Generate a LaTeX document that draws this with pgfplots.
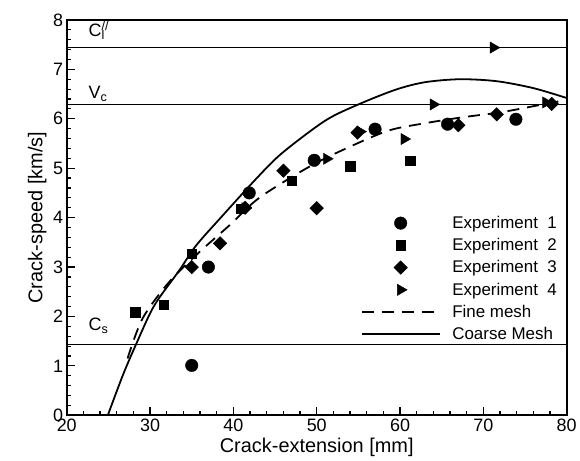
\documentclass[border=0pt]{standalone}
\usepackage{fontspec}
\setmainfont{Liberation Sans}
\usepackage{pgfplots}
\pgfplotsset{compat=1.18}
\pgfplotsset{
  every tick/.append style={black, line width=1.2pt},
  major tick length=8pt, minor tick length=4.5pt,
  every axis/.append style={axis line style={black, line width=1.8pt}},
  markleg/.style={legend image code/.code={\draw[##1] plot coordinates {(39pt,0pt)};}},
  lineleg/.style={legend image code/.code={\draw[##1] (0pt,0pt) -- (78pt,0pt);}},
}
\begin{document}
\begin{tikzpicture}
\begin{axis}[name=ax, scale only axis, width=502pt, height=397pt,
  xmin=20, xmax=80, ymin=0, ymax=8,
  xtick={20,30,...,80}, ytick={0,1,...,8},
  minor x tick num=4, minor y tick num=4,
  xtick pos=left, ytick pos=left, tick align=inside,
  axis on top,
  /pgf/number format/assume math mode=true,
  tick label style={font=\fontsize{18}{20}\selectfont},
  label style={font=\fontsize{20}{24}\selectfont},
  xlabel={Crack-extension [mm]}, ylabel={Crack-speed [km/s]},
  legend style={at={(0.588,0.509)}, anchor=north west, draw=none, fill=none,
    inner sep=0pt, font=\fontsize{17}{20}\selectfont, row sep=4.5pt,
    /tikz/every odd column/.append style={column sep=10pt}},
  legend cell align=left,
]
% reference wave speeds
\addplot[black, line width=1.3pt, forget plot] coordinates {(20,7.44) (80,7.44)};
\addplot[black, line width=1.3pt, forget plot] coordinates {(20,6.29) (80,6.29)};
\addplot[black, line width=1.3pt, forget plot] coordinates {(20,1.43) (80,1.43)};
\node[anchor=base west, font=\fontsize{18}{20}\selectfont] at (axis cs:22.2,7.66) {C\rlap{\textsubscript{l}}\textsuperscript{//}};
\node[anchor=base west, font=\fontsize{18}{20}\selectfont] at (axis cs:22.2,6.40) {V\textsubscript{c}};
\node[anchor=base west, font=\fontsize{18}{20}\selectfont] at (axis cs:22.2,1.71) {C\textsubscript{s}};

\addplot[only marks, mark=*, mark size=6.3pt, black, markleg] coordinates {
 (35.0,1.01) (37.0,3.00) (41.9,4.50) (49.7,5.16) (57.0,5.79) (65.7,5.89) (73.9,5.99)};
\addlegendentry{Experiment\ \ 1}
\addplot[only marks, mark=square*, mark size=4.7pt, black, markleg] coordinates {
 (28.2,2.09) (31.6,2.24) (35.0,3.27) (40.9,4.18) (47.0,4.75) (54.0,5.04) (61.2,5.15)};
\addlegendentry{Experiment\ \ 2}
\addplot[only marks, mark=square*, mark options={rotate=45}, mark size=4.8pt, black, markleg] coordinates {
 (35.0,3.00) (38.4,3.48) (41.4,4.20) (46.0,4.95) (50.0,4.19) (54.9,5.72) (67.0,5.87) (71.6,6.09) (78.2,6.30)};
\addlegendentry{Experiment\ \ 3}
\addplot[only marks, mark=triangle*, mark options={rotate=-90}, mark size=6.5pt, black, markleg] coordinates {
 (41.4,4.19) (51.2,5.19) (55.2,5.74) (60.5,5.59) (64.0,6.29) (71.2,7.44) (77.5,6.33)};
\addlegendentry{Experiment\ \ 4}

\addplot[black, line width=1.8pt, dash pattern=on 12pt off 8pt, smooth, lineleg] coordinates {
 (27.3,1.15) (29.1,1.96) (32.3,2.70) (35.9,3.30) (39.5,3.84) (43.1,4.40) (49.0,5.02)
 (53.4,5.39) (58.6,5.76) (63.0,5.91) (67.5,6.03) (72.4,6.14) (78.0,6.32) (80,6.38)};
\addlegendentry{Fine mesh}
\addplot[black, line width=1.8pt, smooth, lineleg] coordinates {
 (24.93,0) (26.73,0.81) (28.33,1.44) (30.5,2.22) (33.5,2.93) (35.5,3.43) (38.7,4.04)
 (42.7,4.78) (45.8,5.30) (51,5.96) (55,6.29) (59.5,6.59) (63,6.74) (67.2,6.80)
 (71.6,6.76) (76,6.62) (80,6.42)};
\addlegendentry{Coarse Mesh}
\end{axis}
\path ([xshift=-67pt,yshift=-43pt]ax.south west) rectangle ([xshift=11pt,yshift=20pt]ax.north east);
\end{tikzpicture}
\end{document}
